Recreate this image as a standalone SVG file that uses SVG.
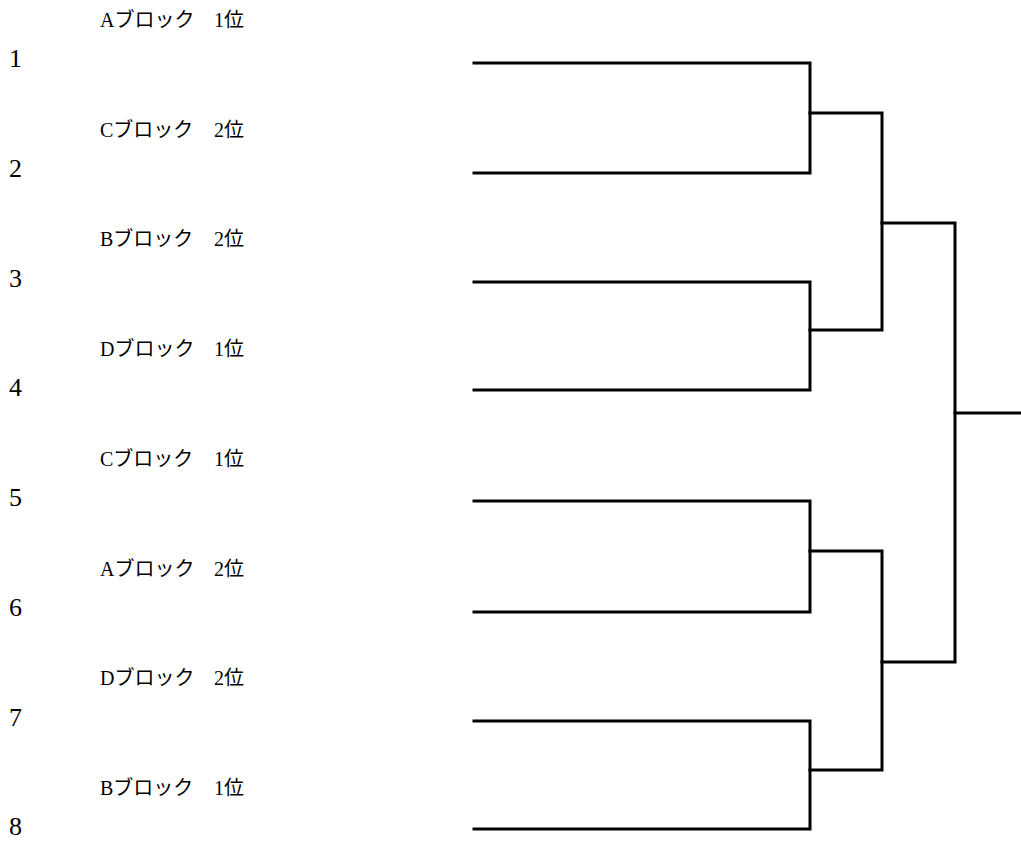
<svg xmlns="http://www.w3.org/2000/svg" width="1021" height="841" viewBox="0 0 1021 841">
<style>
.lbl{font-family:"Liberation Serif","Noto Sans CJK JP",serif;font-size:20px;fill:#000}
.num{font-family:"Liberation Serif","Noto Sans CJK JP",serif;font-size:26px;fill:#000}
.ln{fill:none;stroke:#000;stroke-width:3;stroke-linejoin:miter;stroke-linecap:square}
</style>
<rect width="1021" height="841" fill="#fff"/>
<g id="seed1"><text class="lbl" x="100" y="27">Aブロック<tspan x="214">1位</tspan></text><text class="num" x="9" y="67">1</text></g>
<g id="seed2"><text class="lbl" x="100" y="137">Cブロック<tspan x="214">2位</tspan></text><text class="num" x="9" y="177">2</text></g>
<g id="seed3"><text class="lbl" x="100" y="246">Bブロック<tspan x="214">2位</tspan></text><text class="num" x="9" y="287">3</text></g>
<g id="seed4"><text class="lbl" x="100" y="356">Dブロック<tspan x="214">1位</tspan></text><text class="num" x="9" y="396">4</text></g>
<g id="seed5"><text class="lbl" x="100" y="466">Cブロック<tspan x="214">1位</tspan></text><text class="num" x="9" y="506">5</text></g>
<g id="seed6"><text class="lbl" x="100" y="576">Aブロック<tspan x="214">2位</tspan></text><text class="num" x="9" y="616">6</text></g>
<g id="seed7"><text class="lbl" x="100" y="685">Dブロック<tspan x="214">2位</tspan></text><text class="num" x="9" y="726">7</text></g>
<g id="seed8"><text class="lbl" x="100" y="795">Bブロック<tspan x="214">1位</tspan></text><text class="num" x="9" y="835">8</text></g>
<g id="connectors">
<path class="ln" d="M474 63H810V173H474"/>
<path class="ln" d="M474 282H810V390H474"/>
<path class="ln" d="M474 501H810V612H474"/>
<path class="ln" d="M474 721H810V829H474"/>
<path class="ln" d="M810 113H882V330H810"/>
<path class="ln" d="M810 551H882V770H810"/>
<path class="ln" d="M882 223H955V662H882"/>
<path class="ln" d="M955 413H1021"/>
</g>
</svg>
